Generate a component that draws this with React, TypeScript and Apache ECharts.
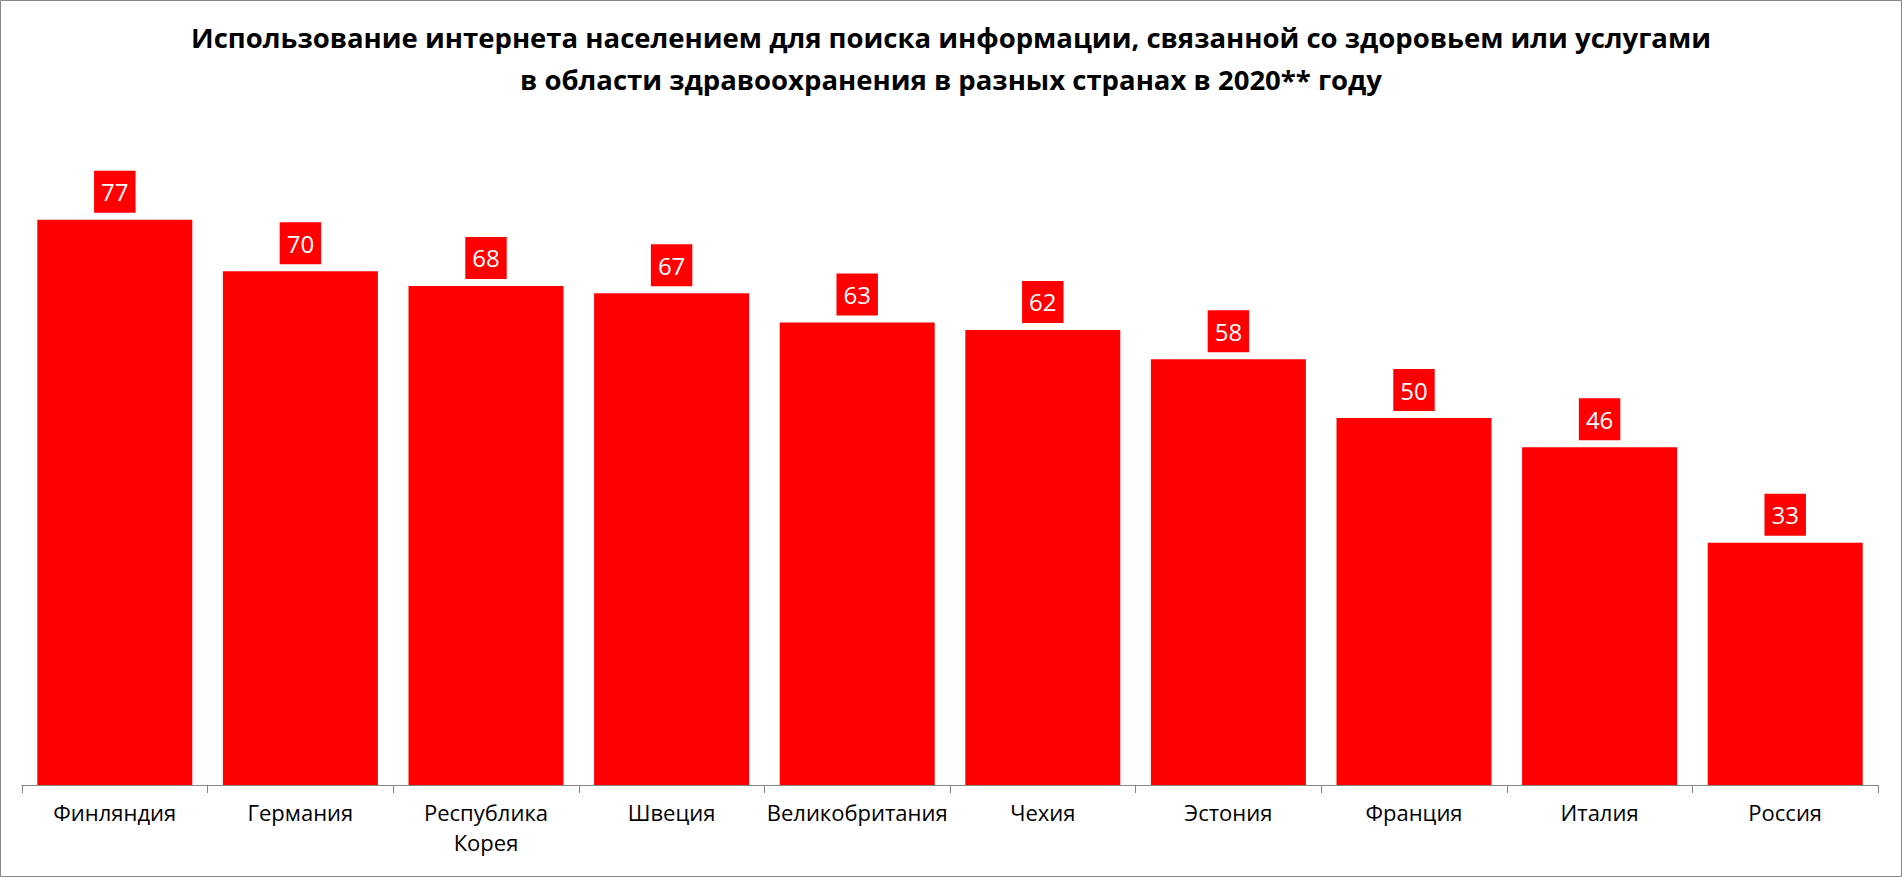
import React, { useEffect, useRef } from "react";
import * as echarts from "echarts";

const titleLines = [
  "Использование интернета населением для поиска информации, связанной со здоровьем или услугами",
  "в области здравоохранения в разных странах в 2020** году",
];
const categories = [
  "Финляндия",
  "Германия",
  "Республика\nКорея",
  "Швеция",
  "Великобритания",
  "Чехия",
  "Эстония",
  "Франция",
  "Италия",
  "Россия",
];
const values = [77, 70, 68, 67, 63, 62, 58, 50, 46, 33];

const FONT = "'Open Sans', 'Noto Sans', sans-serif";

export default function App() {
  const ref = useRef<HTMLDivElement>(null);
  useEffect(() => {
    document.body.style.margin = "0";
    const chart = echarts.init(ref.current!, null, { renderer: "svg" });
    chart.setOption({
      animation: false,
      backgroundColor: "#ffffff",
      title: {
        text: titleLines.join("\n"),
        left: "center",
        top: 11,
        textStyle: {
          fontFamily: FONT,
          fontSize: 27.5,
          fontWeight: "bold",
          color: "#000000",
          lineHeight: 42,
        },
      },
      graphic: [
        {
          type: "rect",
          shape: { x: 0.5, y: 0.5, width: 1901, height: 876 },
          style: { fill: "none", stroke: "#868686", lineWidth: 1 },
          silent: true,
        },
      ],
      grid: { left: 22, right: 24, top: 124.4, bottom: 92, containLabel: false },
      xAxis: {
        type: "category",
        data: categories,
        axisLine: { lineStyle: { color: "#868686", width: 1 } },
        axisTick: { show: true, length: 8, lineStyle: { color: "#868686" } },
        axisLabel: {
          fontFamily: FONT,
          fontSize: 22,
          color: "#000000",
          margin: 12,
          lineHeight: 30,
          interval: 0,
        },
      },
      yAxis: {
        type: "value",
        min: 0,
        max: 90,
        show: false,
        splitLine: { show: false },
      },
      series: [
        {
          type: "bar",
          data: values,
          barCategoryGap: "16.5%",
          itemStyle: { color: "#ff0000" },
          label: {
            show: true,
            position: "top",
            distance: 7,
            color: "#ffffff",
            backgroundColor: "#ff0000",
            fontFamily: FONT,
            fontSize: 24,
            lineHeight: 26,
            padding: [8, 7, 8, 7],
          },
        },
      ],
    });
    return () => chart.dispose();
  }, []);
  return (
    <div
      ref={ref}
      style={{ width: 1902, height: 877, position: "absolute", left: 0, top: 0 }}
    />
  );
}
